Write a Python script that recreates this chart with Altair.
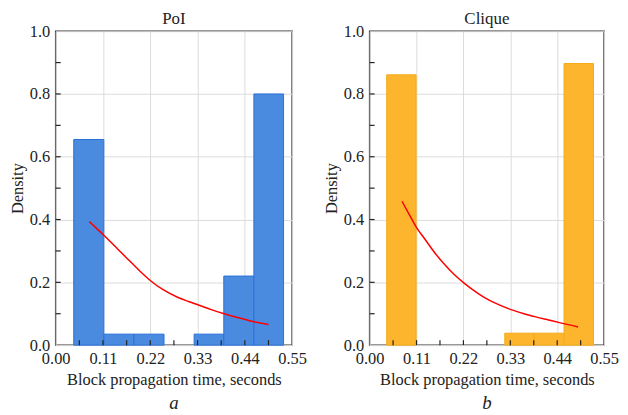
import altair as alt
import pandas as pd

FONT = "Liberation Serif"

# ---- data ----
x_ticks = [0.0, 0.11, 0.22, 0.33, 0.44, 0.55]
x_minor = [0.055, 0.11, 0.165, 0.22, 0.275, 0.33, 0.385, 0.44, 0.495]
y_ticks = [0.0, 0.2, 0.4, 0.6, 0.8, 1.0]
y_minor = [0.1, 0.2, 0.3, 0.4, 0.5, 0.6, 0.7, 0.8, 0.9]

poi_edges = [0.042, 0.112, 0.182, 0.252, 0.322, 0.391, 0.461, 0.530]
poi_density = [0.655, 0.035, 0.035, 0.0, 0.035, 0.22, 0.80]
poi_curve_x = [0.078, 0.095, 0.112, 0.135, 0.150, 0.173, 0.195, 0.220, 0.248,
               0.286, 0.309, 0.332, 0.362, 0.392, 0.423, 0.453, 0.495]
poi_curve_y = [0.394, 0.372, 0.350, 0.319, 0.298, 0.267, 0.237, 0.206, 0.178,
               0.151, 0.139, 0.128, 0.113, 0.100, 0.088, 0.077, 0.066]

clique_edges = [0.040, 0.109, 0.179, 0.248, 0.317, 0.386, 0.456, 0.525]
clique_density = [0.861, 0.0, 0.0, 0.0, 0.038, 0.038, 0.897]
clique_curve_x = [0.076, 0.093, 0.109, 0.131, 0.154, 0.177, 0.199, 0.223, 0.254,
                  0.275, 0.304, 0.332, 0.360, 0.390, 0.420, 0.450, 0.489]
clique_curve_y = [0.458, 0.416, 0.377, 0.335, 0.292, 0.255, 0.224, 0.196, 0.165,
                  0.147, 0.128, 0.113, 0.101, 0.090, 0.080, 0.070, 0.058]

H = 316
FS = 16.5


def panel(edges, dens, cx, cy, fill, stroke, title, letter, width):
    bars = pd.DataFrame({"x0": edges[:-1], "x1": edges[1:], "d": dens})
    bars = bars[bars["d"] > 0]
    curve = pd.DataFrame({"x": cx, "y": cy})
    xs = alt.Scale(domain=[0, 0.55], nice=False, zero=False)
    ys = alt.Scale(domain=[0, 1], nice=False)
    xaxis = alt.Axis(values=x_ticks, format=".2f", title="Block propagation time, seconds",
                     grid=True, ticks=False, domain=False, labelPadding=5, titlePadding=5,
                     labelFlush=False)
    yaxis = alt.Axis(values=y_ticks, format=".1f", title="Density", grid=True, ticks=False,
                     domain=False, labelPadding=6, titlePadding=4)
    bar = alt.Chart(bars).mark_rect(fill=fill, stroke=stroke, strokeWidth=1).encode(
        x=alt.X("x0:Q", scale=xs, axis=xaxis),
        x2="x1:Q",
        y=alt.Y("d:Q", scale=ys, axis=yaxis),
        y2=alt.datum(0),
    )
    line = alt.Chart(curve).mark_line(color="#ff0000", strokeWidth=1.5, interpolate="monotone").encode(
        x=alt.X("x:Q", scale=xs), y=alt.Y("y:Q", scale=ys)
    )
    xt = alt.Chart(pd.DataFrame({"t": x_minor})).mark_rule(color="#222", strokeWidth=1.2).encode(
        x=alt.X("t:Q", scale=xs), y=alt.value(H), y2=alt.value(H - 5)
    )
    yt = alt.Chart(pd.DataFrame({"t": y_minor})).mark_rule(color="#222", strokeWidth=1.2).encode(
        y=alt.Y("t:Q", scale=ys), x=alt.value(0), x2=alt.value(5)
    )
    lab = alt.Chart(pd.DataFrame({"t": [letter]})).mark_text(
        font=FONT, fontSize=19, fontStyle="italic", color="#222", baseline="middle"
    ).encode(text="t:N", x=alt.value(width / 2), y=alt.value(H + 58))
    return alt.layer(bar, line, xt, yt, lab).properties(
        width=width, height=H,
        title=alt.TitleParams(title, font=FONT, fontSize=17, fontWeight="normal", color="#222", offset=-5),
    )


left = panel(poi_edges, poi_density, poi_curve_x, poi_curve_y, "#4A8BDF", "#2A72D9", "PoI", "a", 238)
right = panel(clique_edges, clique_density, clique_curve_x, clique_curve_y, "#FDB52E", "#F5AA18", "Clique", "b", 236)

chart = alt.hconcat(left, right, spacing=14).properties(padding=0).configure_view(
    stroke="#333", strokeWidth=1.5
).configure_axis(
    labelFont=FONT, titleFont=FONT, labelFontSize=FS, titleFontSize=FS,
    labelColor="#222", titleColor="#222", titleFontWeight="normal",
    gridColor="#dcdcdc", gridWidth=1,
)

chart.save("out.html", embed_options={"renderer": "svg", "actions": False})
